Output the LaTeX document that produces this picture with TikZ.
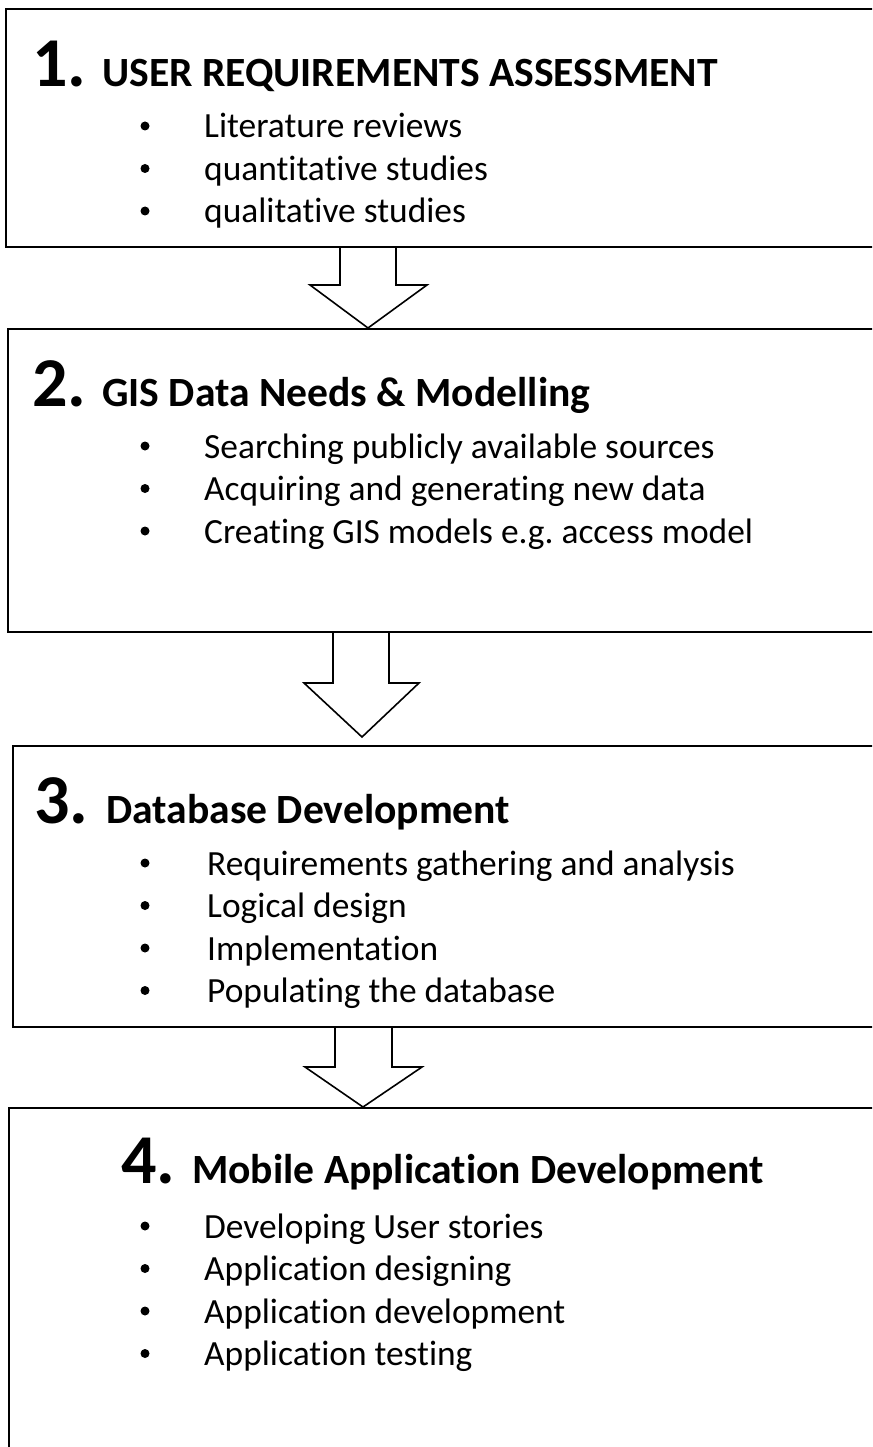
\documentclass[tikz,border=0pt]{standalone}
\usepackage{fontspec}
\setmainfont{Carlito}[Ligatures=NoCommon]
\usetikzlibrary{calc}

\tikzset{
	stage/.style={draw, line width=2pt, anchor=north west, inner sep=0pt},
	num/.style={anchor=base west, inner sep=0pt, font=\fontsize{70}{70}\selectfont\bfseries},
	head/.style={anchor=base west, inner sep=0pt, font=\fontsize{41.6}{41.6}\selectfont\bfseries},
	dot/.style={circle, fill, inner sep=0pt, minimum size=9pt},
	item/.style={anchor=base west, inner sep=0pt, font=\fontsize{35.4}{35.4}\selectfont},
	blockarrow/.style={draw, line width=1.6pt, line join=miter},
}

\begin{document}
\begin{tikzpicture}[x=1pt,y=-1pt]
\useasboundingbox (0,0) rectangle (872,1447);
\fill[white] (0,0) rectangle (872,1447);
\clip (0,0) rectangle (872,1447);

\node[stage, minimum width=880pt, minimum height=238pt] (s1) at (5,8) {};
\node[stage, minimum width=880pt, minimum height=303pt] (s2) at (7,328) {};
\node[stage, minimum width=880pt, minimum height=281pt] (s3) at (12,745) {};
\node[stage, minimum width=880pt, minimum height=360pt] (s4) at (8,1107) {};

\node[num] (n1) at (32,87) {1.};
\node[head] (h1) at (102,87) {USER REQUIREMENTS ASSESSMENT};
\foreach \txt [count=\i] in {Literature reviews, quantitative studies, qualitative studies} {
	\node[dot] (d1-\i) at (145,{126+42.5*(\i-1)}) {};
	\node[item] (t1-\i) at (204,{138+42.5*(\i-1)}) {\txt};
}

\node[num] (n2) at (32,406) {2.};
\node[head] (h2) at (102,406) {GIS Data Needs \& Modelling};
\foreach \txt [count=\i] in {Searching publicly available sources, Acquiring and generating new data, Creating GIS models e.g.\ access model} {
	\node[dot] (d2-\i) at (145,{446+42.5*(\i-1)}) {};
	\node[item] (t2-\i) at (204,{458+42.5*(\i-1)}) {\txt};
}

\node[num] (n3) at (34,823) {3.};
\node[head] (h3) at (106,823) {Database Development};
\foreach \txt [count=\i] in {Requirements gathering and analysis, Logical design, Implementation, Populating the database} {
	\node[dot] (d3-\i) at (145,{863+42.5*(\i-1)}) {};
	\node[item] (t3-\i) at (207,{875+42.5*(\i-1)}) {\txt};
}

\node[num] (n4) at (121,1183) {4.};
\node[head] (h4) at (192,1183) {Mobile Application Development};
\foreach \txt [count=\i] in {Developing User stories, Application designing, Application development, Application testing} {
	\node[dot] (d4-\i) at (145,{1226+42.5*(\i-1)}) {};
	\node[item] (t4-\i) at (204,{1238+42.5*(\i-1)}) {\txt};
}

\draw[blockarrow] (340,0 |- s1.south) -- (340,285) -- (310,285) -- (368,0 |- s2.north)
	-- (427,285) -- (396,285) -- (396,0 |- s1.south);
\draw[blockarrow] (333,0 |- s2.south) -- (333,683) -- (304,683) -- (362,737)
	-- (419,683) -- (389,683) -- (389,0 |- s2.south);
\draw[blockarrow] (335,0 |- s3.south) -- (335,1067) -- (305,1067) -- (363,0 |- s4.north)
	-- (422,1067) -- (392,1067) -- (392,0 |- s3.south);
\end{tikzpicture}
\end{document}
